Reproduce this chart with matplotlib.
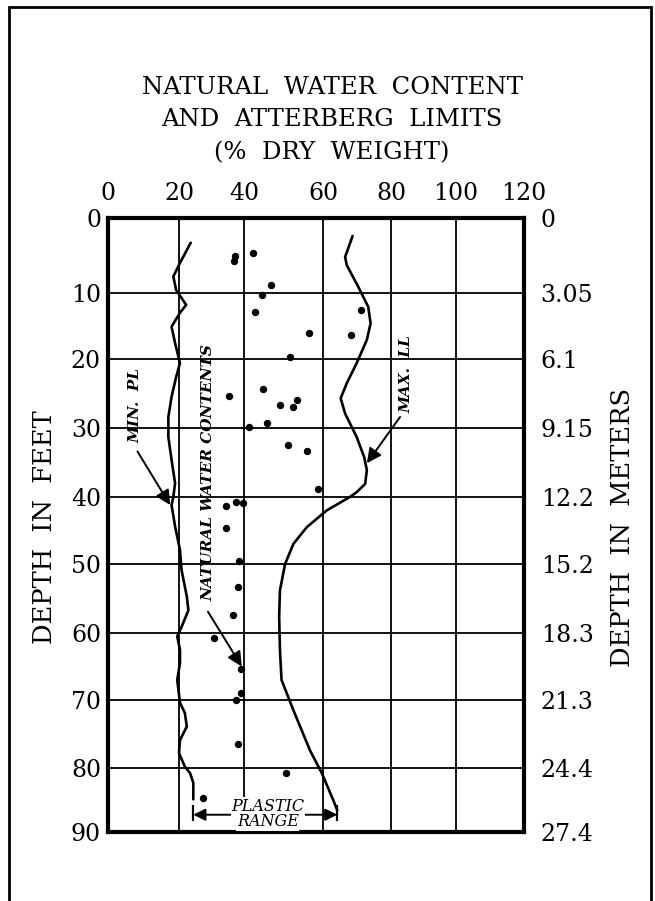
# -*- coding: utf-8 -*-
"""Natural water content and Atterberg limits versus depth (boring log chart)."""

import matplotlib.pyplot as plt
from matplotlib.patches import Rectangle
import numpy as np

plt.rcParams["font.family"] = "DejaVu Serif"

# ---- data --------------------------------------------------------------
# minimum plastic limit curve
pl_depth = [3.3, 6.0, 7.8, 9.6, 11.8, 13.0, 15.1, 17.6, 20.6, 22.6, 25.5, 28.4,
            31.3, 34.6, 38.0, 40.0, 41.2, 44.4, 47.9, 50.9, 54.7, 56.7, 59.1,
            60.5, 62.5, 64.5, 67.0, 70.4, 71.9, 73.9, 75.9, 77.8, 79.8, 80.8,
            82.3, 84.9]
pl_pct = [23.6, 20.3, 18.4, 19.2, 22.2, 20.3, 17.9, 18.9, 20.3, 19.2, 17.9, 17.0,
          17.0, 17.9, 18.9, 18.4, 17.9, 18.9, 20.3, 20.8, 22.4, 22.9, 20.8,
          19.5, 20.3, 20.3, 19.5, 20.3, 21.8, 22.4, 20.3, 20.0, 21.8, 23.4,
          24.4, 24.4]

# maximum liquid limit curve
ll_depth = [2.4, 5.2, 6.3, 9.2, 12.1, 14.6, 17.1, 20.6, 23.5, 25.7, 27.9, 31.3,
            34.2, 36.1, 38.1, 39.3, 40.0, 42.0, 44.5, 47.0, 50.0, 53.8, 57.6,
            62.5, 67.0, 71.5, 77.4, 80.8, 85.0, 86.6]
ll_pct = [68.7, 66.5, 67.0, 70.4, 73.3, 74.0, 72.9, 69.9, 67.0, 65.2, 66.5, 69.9,
          72.1, 72.9, 72.4, 69.9, 67.9, 61.1, 55.9, 52.5, 50.4, 49.1, 48.9,
          49.1, 49.5, 52.5, 56.7, 59.7, 63.0, 64.2]

# natural water contents (points)
nwc_depth = [5.1, 5.7, 4.6, 8.9, 10.3, 12.9, 12.5, 16.0, 16.4, 19.7, 24.4, 25.4,
             25.9, 26.6, 27.0, 29.3, 29.8, 32.4, 33.4, 38.8, 40.7, 40.9, 41.3,
             44.6, 49.6, 53.3, 57.4, 60.8, 65.3, 69.0, 70.0, 76.4, 80.8, 84.7]
nwc_pct = [37.2, 37.0, 42.4, 46.8, 44.6, 42.9, 71.2, 56.5, 68.1, 51.6, 44.9, 35.5,
           53.3, 49.1, 52.3, 45.9, 41.3, 51.2, 56.0, 58.8, 37.5, 39.6, 34.5,
           34.5, 38.6, 38.1, 36.7, 30.8, 39.0, 39.0, 37.4, 38.1, 50.6, 27.5]

pct_ticks = [0, 20, 40, 60, 80, 100, 120]
feet_ticks = [0, 10, 20, 30, 40, 50, 60, 70, 80, 90]
meter_labels = ["0", "3.05", "6.1", "9.15", "12.2", "15.2", "18.3", "21.3",
                "24.4", "27.4"]
plastic_range = (24.4, 64.2)
plastic_depth = 87.3

# the original grid was drawn by hand, spacing is a bit uneven
X_SPACING = [0, 71, 136, 215, 283, 348, 416]
Y_SPACING = [0, 75, 141, 210, 279, 346, 415, 482, 550, 614]


def make_scale(ticks, spacing):
    fwd = lambda v: np.interp(v, ticks, spacing)
    inv = lambda p: np.interp(p, spacing, ticks)
    return fwd, inv


fig = plt.figure(figsize=(6.55, 9.01), dpi=100)
ax = fig.add_axes([108 / 655, 1 - 832 / 901, 416 / 655, 614 / 901])

ax.set_xscale("function", functions=make_scale(pct_ticks, X_SPACING))
ax.set_yscale("function", functions=make_scale(feet_ticks, Y_SPACING))
ax.set_xlim(0, 120)
ax.set_ylim(90, 0)

ax.plot(pl_pct, pl_depth, color="k", lw=1.9, solid_capstyle="round",
        solid_joinstyle="round")
ax.plot(ll_pct, ll_depth, color="k", lw=1.9, solid_capstyle="round",
        solid_joinstyle="round")
ax.plot(nwc_pct, nwc_depth, "o", color="k", ms=4.3)

ax.set_xticks(pct_ticks)
ax.set_yticks(feet_ticks)
ax.xaxis.tick_top()
ax.tick_params(axis="x", length=0, pad=9, labelsize=17)
ax.tick_params(axis="y", length=0, pad=5, labelsize=17)
ax.grid(True, color="k", lw=1.3)
ax.set_axisbelow(True)
for sp in ax.spines.values():
    sp.set_linewidth(3)

ax2 = ax.twinx()
ax2.set_yscale("function", functions=make_scale(feet_ticks, Y_SPACING))
ax2.set_ylim(90, 0)
ax2.set_yticks(feet_ticks)
ax2.set_yticklabels(meter_labels)
ax2.tick_params(axis="y", length=0, pad=12, labelsize=17)
for sp in ax2.spines.values():
    sp.set_visible(False)

# annotations
lab = dict(rotation=90, fontsize=11, fontweight="bold", style="italic",
           ha="center", va="center")
arrow = dict(arrowstyle="-|>", color="k", lw=1.4, mutation_scale=22,
             shrinkA=0, shrinkB=0)
ax.text(7.6, 26.7, "MIN.  PL", **lab)
ax.annotate("", xy=(17.5, 41.2), xytext=(8.3, 33.4), arrowprops=arrow)
ax.text(28.9, 36.5, "NATURAL WATER CONTENTS", **lab)
ax.annotate("", xy=(39.3, 65.0), xytext=(28.9, 56.9), arrowprops=arrow)
ax.text(84.8, 22.2, "MAX.  LL", **lab)
ax.annotate("", xy=(72.9, 35.1), xytext=(82.8, 28.4), arrowprops=arrow)

ax.annotate("", xy=(plastic_range[0], plastic_depth),
            xytext=(plastic_range[1], plastic_depth),
            arrowprops=dict(arrowstyle="<|-|>", color="k", lw=1.4,
                            mutation_scale=18, shrinkA=0, shrinkB=0))
ax.vlines(plastic_range, plastic_depth - 1.5, plastic_depth + 1.0, color="k", lw=1.6)
ax.text(46.1, 86.0, "PLASTIC", fontsize=11.5, style="italic", ha="center",
        va="center", bbox=dict(fc="white", ec="none", pad=0.5))
ax.text(46.0, 88.4, "RANGE", fontsize=11.5, style="italic", ha="center",
        va="center", bbox=dict(fc="white", ec="none", pad=0.5))

# titles and axis labels
fig.text(332 / 655, 1 - 120 / 901,
         "NATURAL  WATER  CONTENT\nAND  ATTERBERG  LIMITS\n(%  DRY  WEIGHT)",
         ha="center", va="center", fontsize=17.5, linespacing=1.55)
fig.text(45 / 655, 1 - 527 / 901, "DEPTH  IN  FEET", rotation=90, ha="center",
         va="center", fontsize=18.5)
fig.text(622 / 655, 1 - 527 / 901, "DEPTH  IN  METERS", rotation=90, ha="center",
         va="center", fontsize=18.5)

# outer frame
fig.patches.append(Rectangle((9 / 655, -0.02), 642 / 655, 1.02 - 7 / 901,
                             transform=fig.transFigure, fill=False, lw=2,
                             ec="k"))

fig.savefig("out.png", dpi=100)
